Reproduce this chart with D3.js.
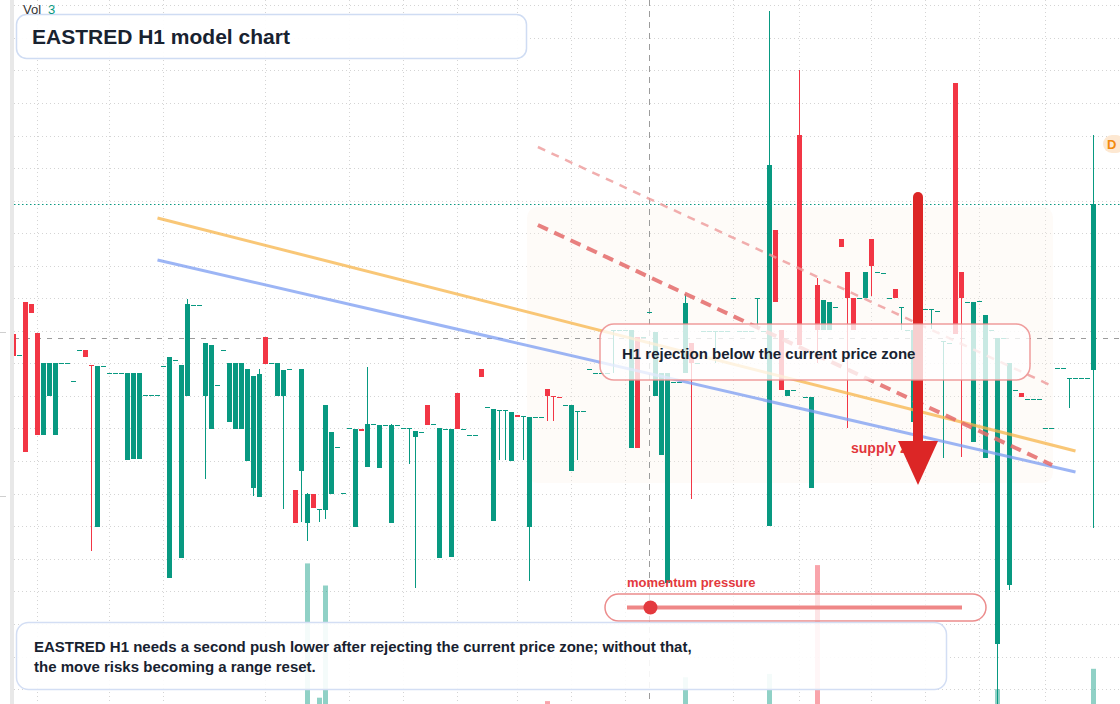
<!DOCTYPE html>
<html>
<head>
<meta charset="utf-8">
<script src="https://cdnjs.cloudflare.com/ajax/libs/d3/7.8.5/d3.min.js"></script>
<style>
body { margin: 0; background: #fff; }
svg { display: block; font-family: "Liberation Sans", Arial, sans-serif; }
</style>
</head>
<body>
<svg></svg>
<script>
// hourly bars, oldest first (index 0 is the half-hidden bar at the left edge)
let opens = [
  37.0, 34.9, 40.2, 40.0, 37.1, 26.9, 30.8, 26.9, 34.1, 34.1,
  32.3, 35.4, 35.4, 33.9, 17.7, 33.8, 33.1, 33.1, 33.1, 24.4,
  24.5, 24.5, 30.9, 30.9, 30.9, 33.8, 12.6, 34.4, 14.6, 30.8,
  39.9, 39.9, 30.8, 27.5, 31.9, 35.4, 28.2, 27.5, 27.5, 24.3,
  21.6, 20.7, 36.7, 34.1, 30.8, 30.8, 33.5, 21.4, 23.3, 18.1,
  21.0, 19.5, 19.4, 21.0, 25.7, 21.1, 27.6, 17.7, 27.5, 23.7,
  28.0, 23.6, 27.9, 18.1, 27.9, 27.6, 27.6, 26.7, 27.2, 29.9,
  28.0, 14.6, 27.5, 14.7, 31.1, 27.5, 26.9, 26.9, 33.5, 29.7,
  18.3, 29.4, 29.4, 24.3, 28.9, 28.8, 17.7, 28.7, 28.7, 31.5,
  30.8, 30.7, 29.9, 23.3, 29.3, 29.3, 33.5, 33.1, 33.1, 33.1,
  37.4, 37.4, 37.4, 25.6, 36.7, 36.7, 39.2, 30.8, 24.9, 12.1,
  32.2, 32.2, 33.1, 36.1, 34.1, 37.3, 37.3, 37.3, 37.3, 37.3,
  40.6, 37.3, 37.3, 37.3, 40.6, 37.3, 17.8, 47.4, 37.4, 30.8,
  31.4, 56.9, 30.7, 21.6, 41.9, 37.4, 37.4, 39.7, 46.5, 43.2,
  40.6, 40.6, 40.6, 46.5, 43.2, 43.1, 40.6, 41.5, 39.7, 37.4,
  28.2, 39.5, 39.5, 39.5, 39.3, 36.3, 36.1, 62.1, 43.2, 40.2,
  26.2, 40.3, 24.6, 37.4, 6.0, 36.6, 11.9, 31.4, 31.1, 30.5,
  30.5, 30.5, 27.6, 27.6, 33.6, 33.6, 32.6, 32.6, 32.6, 32.6,
  33.4
]
let highs = [
  37.0, 34.9, 40.2, 40.0, 37.1, 34.1, 34.1, 34.1, 34.1, 34.1,
  32.3, 35.4, 35.4, 33.9, 33.8, 33.8, 33.1, 33.1, 33.1, 33.1,
  33.1, 33.1, 30.9, 30.9, 30.9, 33.8, 34.7, 34.4, 33.9, 40.5,
  39.9, 39.9, 36.1, 35.9, 31.9, 35.4, 34.1, 34.1, 34.1, 33.5,
  32.8, 33.5, 36.7, 34.1, 34.1, 33.4, 33.5, 21.4, 33.5, 21.1,
  21.0, 19.5, 29.9, 27.2, 25.7, 21.1, 27.6, 27.5, 27.5, 33.7,
  28.0, 27.9, 27.9, 28.0, 27.9, 27.6, 27.6, 27.3, 27.2, 29.9,
  28.0, 27.6, 27.5, 27.5, 31.1, 27.5, 26.9, 26.9, 33.5, 29.7,
  29.5, 29.4, 29.4, 29.2, 28.9, 28.8, 28.7, 28.7, 28.7, 31.5,
  30.8, 30.7, 29.9, 29.9, 29.3, 29.3, 33.5, 33.1, 33.1, 33.1,
  37.4, 37.4, 37.4, 37.4, 36.7, 36.7, 39.2, 37.2, 33.1, 33.1,
  32.2, 32.2, 41.0, 36.1, 34.1, 37.3, 37.3, 37.3, 37.3, 37.3,
  40.6, 37.3, 37.3, 37.3, 40.6, 37.3, 69.3, 47.4, 37.4, 31.4,
  31.4, 63.4, 30.7, 30.7, 42.6, 40.4, 40.2, 39.7, 46.5, 43.2,
  40.6, 40.6, 43.2, 46.5, 43.2, 43.1, 40.6, 41.5, 39.7, 37.4,
  37.4, 39.5, 39.5, 39.5, 39.3, 36.3, 36.1, 62.1, 43.2, 40.2,
  40.2, 40.3, 38.9, 37.4, 36.6, 36.6, 34.1, 31.4, 31.1, 30.5,
  30.5, 30.5, 27.6, 27.6, 33.6, 33.6, 32.6, 32.6, 32.6, 32.6,
  56.9
]
let lows = [
  34.8, 34.9, 25.2, 39.1, 26.9, 26.9, 30.8, 26.9, 34.1, 34.1,
  32.3, 35.4, 34.7, 15.3, 17.7, 33.8, 33.1, 33.1, 33.1, 24.4,
  24.5, 24.5, 30.9, 30.9, 30.9, 33.8, 12.6, 34.4, 14.6, 30.8,
  39.9, 39.9, 22.5, 27.5, 31.9, 35.4, 28.2, 27.5, 27.5, 24.3,
  20.8, 20.7, 34.0, 34.1, 30.8, 19.5, 33.5, 18.1, 18.2, 16.3,
  19.6, 18.2, 18.5, 21.0, 25.7, 21.1, 27.6, 17.7, 27.3, 23.7,
  28.0, 23.6, 27.9, 18.1, 27.9, 27.6, 24.0, 11.6, 27.2, 27.9,
  28.0, 14.6, 27.5, 14.7, 27.5, 27.5, 26.9, 26.9, 32.7, 29.7,
  18.3, 24.4, 24.4, 24.3, 28.7, 24.4, 12.3, 28.7, 28.7, 28.3,
  28.3, 30.6, 29.9, 23.3, 24.4, 29.3, 33.5, 33.1, 33.1, 33.1,
  33.1, 37.4, 37.4, 25.6, 25.6, 36.7, 39.2, 30.8, 24.9, 12.1,
  32.2, 32.2, 33.1, 20.5, 34.1, 37.3, 37.3, 34.1, 37.3, 37.3,
  40.6, 37.3, 37.3, 37.3, 37.5, 37.3, 17.8, 40.2, 31.4, 30.8,
  31.4, 35.9, 30.7, 21.6, 34.1, 37.4, 37.4, 39.7, 45.7, 27.6,
  37.4, 40.6, 40.6, 40.8, 43.2, 43.1, 40.6, 40.6, 37.4, 37.4,
  28.2, 39.5, 39.5, 37.5, 39.3, 24.6, 36.1, 37.0, 24.7, 40.2,
  26.2, 40.3, 24.6, 37.4, -2.0, 36.6, 11.4, 31.4, 30.7, 30.5,
  30.5, 30.5, 27.6, 27.6, 33.6, 33.6, 29.6, 32.6, 32.6, 32.6,
  17.6
]
let closes = [
  34.8, 34.9, 25.2, 39.1, 26.9, 34.1, 34.1, 34.1, 34.1, 34.1,
  32.3, 35.4, 34.7, 33.8, 33.8, 33.8, 33.1, 33.1, 33.1, 33.1,
  33.1, 33.1, 30.9, 30.9, 30.9, 33.8, 34.7, 34.4, 33.9, 40.0,
  39.9, 39.9, 36.1, 35.9, 31.9, 35.4, 34.1, 34.1, 34.1, 33.5,
  32.8, 33.0, 34.0, 34.1, 34.1, 33.4, 33.5, 18.1, 33.5, 21.0,
  19.6, 19.5, 29.9, 27.2, 25.7, 21.1, 27.6, 27.5, 27.3, 28.0,
  28.0, 27.9, 27.9, 27.9, 27.9, 27.6, 27.6, 27.3, 27.2, 27.9,
  28.0, 27.6, 27.5, 27.5, 27.5, 27.5, 26.9, 26.9, 32.7, 29.7,
  29.5, 29.4, 29.4, 29.2, 28.7, 28.8, 28.7, 28.7, 28.7, 30.8,
  30.7, 30.6, 29.9, 29.9, 29.3, 29.3, 33.5, 33.1, 33.1, 33.1,
  37.4, 37.4, 37.4, 37.4, 25.6, 36.7, 39.2, 37.2, 33.1, 33.1,
  32.2, 32.2, 40.1, 34.1, 34.1, 37.3, 37.3, 37.3, 37.3, 37.3,
  40.6, 37.3, 37.3, 37.3, 40.6, 37.3, 53.9, 40.2, 31.4, 31.4,
  31.4, 35.9, 30.7, 30.7, 37.4, 40.4, 40.2, 39.7, 45.7, 40.6,
  37.4, 40.6, 43.2, 43.8, 43.2, 43.1, 40.6, 40.6, 39.7, 37.4,
  37.4, 39.5, 39.5, 39.5, 39.3, 36.3, 36.1, 37.0, 40.6, 40.2,
  40.2, 40.3, 38.9, 37.4, 36.6, 36.6, 34.1, 31.4, 30.7, 30.5,
  30.5, 30.5, 27.6, 27.6, 33.6, 33.6, 32.6, 32.6, 32.6, 32.6,
  50.0
]

// only the volume bars that rise into view
let volumeBars = [49, 51, 52, 89, 112, 126, 134, 164, 180]
let volumeValues = [98, 19, 85, 17, 31, 33, 97, 24, 36]
let volumeLabel = '3'

let priceTicks = [69.9, 66.6, 63.4, 60.1, 56.8, 53.6, 50.3, 47.1, 43.8, 40.6, 37.3,
  34.1, 30.8, 27.6, 24.3, 21.0, 17.8, 14.5, 11.3, 8.0, 4.7, 1.5]
let timeTicks = [4, 16, 25, 42, 56, 65, 74, 84, 93, 102, 120, 131, 143, 152, 161, 172]

// [bar index, price]
let fastAverage = [[24, 48.6], [177, 25.3]]
let slowAverage = [[24, 44.4], [177, 23.2]]
let upperRejection = [[87.4, 55.7], [173.1, 31.8]]
let lowerRejection = [[87.4, 47.9], [173.1, 23.9]]

let supplyZone = {from: 85.6, to: 173.25, top: 49.7, bottom: 22.1}
let arrowBar = 150.75
let arrowPrices = [50.7, 21.9]
let crosshairBar = 106
let crosshairPrice = 36.6
let momentum = 0.07

let width = 1120
let height = 704
let up = '#089981'
let down = '#f23645'

let svg = d3.select('svg').attr('width', width).attr('height', height)

let xScale = d3.scaleLinear().domain([0, 180]).range([13.5, 1093.5])
let yScale = d3.scaleLinear().domain([0, 70.4]).range([height, 0])
let volScale = d3.scaleLinear().domain([0, 100]).range([730, 560])

let bars = opens.map((o, i) => ({i: i, o: o, h: highs[i], l: lows[i], c: closes[i]}))
let colorOf = (d) => d.c >= d.o ? up : down

svg.append('defs').append('clipPath').attr('id', 'plot-clip')
   .append('rect').attr('x', 14).attr('y', 0).attr('width', width - 14).attr('height', height)

let drawFrame = () => {
    svg.append('rect').attr('x', 10).attr('y', 0).attr('width', 4).attr('height', height).attr('fill', '#e8e8e8')
    svg.selectAll('.axis-mark')
       .data([332, 496])
       .enter()
       .append('line')
       .attr('x1', 0).attr('x2', 6)
       .attr('y1', (d) => d + 0.5).attr('y2', (d) => d + 0.5)
       .attr('stroke', '#cfcfcf')
}

let plot = svg.append('g').attr('clip-path', 'url(#plot-clip)')

let drawGrid = () => {
    plot.selectAll('.hgrid')
        .data(priceTicks)
        .enter()
        .append('line')
        .attr('x1', 14).attr('x2', width)
        .attr('y1', (d) => Math.round(yScale(d)) + 0.5)
        .attr('y2', (d) => Math.round(yScale(d)) + 0.5)
        .attr('stroke', '#d4d4d4')
        .attr('stroke-dasharray', '1,3')
    plot.selectAll('.vgrid')
        .data(timeTicks)
        .enter()
        .append('line')
        .attr('x1', (d) => Math.floor(xScale(d)) + 0.5)
        .attr('x2', (d) => Math.floor(xScale(d)) + 0.5)
        .attr('y1', 0).attr('y2', height)
        .attr('stroke', '#d4d4d4')
        .attr('stroke-dasharray', '1,3')
}

let drawZone = () => {
    plot.append('rect')
        .attr('x', xScale(supplyZone.from))
        .attr('y', yScale(supplyZone.top))
        .attr('width', xScale(supplyZone.to) - xScale(supplyZone.from))
        .attr('height', yScale(supplyZone.bottom) - yScale(supplyZone.top))
        .attr('rx', 10)
        .attr('fill', '#fbf1e6')
        .attr('opacity', 0.28)
}

let drawCrosshair = () => {
    let cy = Math.round(yScale(crosshairPrice)) + 0.5
    plot.append('line')
        .attr('x1', 14).attr('x2', width).attr('y1', cy).attr('y2', cy)
        .attr('stroke', '#9c9c9c').attr('stroke-dasharray', '5,6')
    let cx = Math.floor(xScale(crosshairBar)) + 0.5
    plot.append('line')
        .attr('x1', cx).attr('x2', cx).attr('y1', 0).attr('y2', height)
        .attr('stroke', '#9c9c9c').attr('stroke-dasharray', '6,5')
    // last price line
    let ly = Math.round(yScale(closes[closes.length - 1])) + 0.5
    plot.append('line')
        .attr('x1', 14).attr('x2', width).attr('y1', ly).attr('y2', ly)
        .attr('stroke', up).attr('stroke-dasharray', '1.5,2.5')
}

let drawVolume = () => {
    plot.selectAll('.vol')
        .data(volumeBars)
        .enter()
        .append('rect')
        .attr('x', (d) => xScale(d) - 2.5)
        .attr('y', (d, k) => volScale(volumeValues[k]))
        .attr('width', 5)
        .attr('height', (d, k) => volScale(0) - volScale(volumeValues[k]))
        .attr('fill', (d) => colorOf(bars[d]))
        .attr('opacity', 0.45)
}

let drawCandles = () => {
    plot.selectAll('.wick')
        .data(bars)
        .enter()
        .append('line')
        .attr('x1', (d) => xScale(d.i)).attr('x2', (d) => xScale(d.i))
        .attr('y1', (d) => yScale(d.h)).attr('y2', (d) => yScale(d.l))
        .attr('stroke', colorOf)
    plot.selectAll('.body')
        .data(bars)
        .enter()
        .append('rect')
        .attr('x', (d) => xScale(d.i) - 2.5)
        .attr('y', (d) => Math.round(yScale(Math.max(d.o, d.c))))
        .attr('width', 5)
        .attr('height', (d) => Math.max(1, Math.round(Math.abs(yScale(d.o) - yScale(d.c)))))
        .attr('fill', colorOf)
}

let drawStudies = () => {
    let line = d3.line().x((d) => xScale(d[0])).y((d) => yScale(d[1]))
    plot.append('path').attr('d', line(fastAverage))
        .attr('fill', 'none').attr('stroke', '#f7b44a').attr('stroke-width', 3).attr('opacity', 0.75)
    plot.append('path').attr('d', line(slowAverage))
        .attr('fill', 'none').attr('stroke', '#7b9cf2').attr('stroke-width', 3).attr('opacity', 0.75)
    plot.append('path').attr('d', line(upperRejection))
        .attr('fill', 'none').attr('stroke', '#ee9a9a').attr('stroke-width', 2.5)
        .attr('stroke-dasharray', '8,7').attr('opacity', 0.8)
    plot.append('path').attr('d', line(lowerRejection))
        .attr('fill', 'none').attr('stroke', '#e46a6a').attr('stroke-width', 4)
        .attr('stroke-dasharray', '11,7').attr('opacity', 0.85)
}

let drawArrow = () => {
    let ax = xScale(arrowBar)
    let top = yScale(arrowPrices[0])
    let tip = yScale(arrowPrices[1])
    plot.append('text')
        .attr('x', 851).attr('y', 453)
        .attr('font-size', 14).attr('font-weight', 'bold')
        .attr('fill', '#e2363c')
        .text('supply zone')
    plot.append('line')
        .attr('x1', ax).attr('x2', ax).attr('y1', top).attr('y2', tip - 40)
        .attr('stroke', '#dc2626').attr('stroke-width', 10).attr('stroke-linecap', 'round')
    plot.append('path')
        .attr('d', 'M' + (ax - 20) + ',' + (tip - 44) + 'L' + (ax + 20) + ',' + (tip - 44) + 'L' + ax + ',' + tip + 'Z')
        .attr('fill', '#dc2626')
}

let drawNotes = () => {
    // rejection callout
    svg.append('rect')
       .attr('x', 600).attr('y', 324).attr('width', 430).attr('height', 56).attr('rx', 14)
       .attr('fill', '#ffffff').attr('fill-opacity', 0.78)
       .attr('stroke', '#ec8c8c').attr('stroke-width', 1.5).attr('stroke-opacity', 0.85)
    svg.append('text')
       .attr('x', 622).attr('y', 359)
       .attr('font-size', 15).attr('font-weight', 'bold').attr('fill', '#182230')
       .text('H1 rejection below the current price zone')

    // momentum gauge
    let gauge = d3.scaleLinear().domain([0, 1]).range([627, 962])
    svg.append('text')
       .attr('x', 627).attr('y', 587)
       .attr('font-size', 13).attr('font-weight', 'bold').attr('fill', '#e3393e')
       .text('momentum pressure')
    svg.append('rect')
       .attr('x', 605).attr('y', 594).attr('width', 381).attr('height', 27).attr('rx', 13.5)
       .attr('fill', '#ffffff').attr('fill-opacity', 0.7)
       .attr('stroke', '#ec8c8c').attr('stroke-width', 1.5)
    svg.append('line')
       .attr('x1', gauge(0)).attr('x2', gauge(1)).attr('y1', 607.5).attr('y2', 607.5)
       .attr('stroke', '#ef8787').attr('stroke-width', 4)
    svg.append('circle')
       .attr('cx', gauge(momentum)).attr('cy', 607.5).attr('r', 7)
       .attr('fill', '#e3393e')

    // summary
    svg.append('rect')
       .attr('x', 16.5).attr('y', 622.5).attr('width', 930).attr('height', 67).attr('rx', 12)
       .attr('fill', '#ffffff').attr('fill-opacity', 0.9)
       .attr('stroke', '#d3def4').attr('stroke-width', 1.5)
    let summary = svg.append('text')
       .attr('font-size', 15).attr('font-weight', 'bold').attr('fill', '#182230')
    summary.append('tspan').attr('x', 34).attr('y', 652)
       .text('EASTRED H1 needs a second push lower after rejecting the current price zone; without that,')
    summary.append('tspan').attr('x', 34).attr('y', 672)
       .text('the move risks becoming a range reset.')

    // title
    svg.append('rect')
       .attr('x', 16.5).attr('y', 14.5).attr('width', 510).attr('height', 44).attr('rx', 10)
       .attr('fill', '#ffffff').attr('fill-opacity', 0.92)
       .attr('stroke', '#cfdcf3').attr('stroke-width', 1.5)
    svg.append('text')
       .attr('x', 32).attr('y', 43.5)
       .attr('font-size', 21).attr('font-weight', 'bold').attr('fill', '#182230')
       .text('EASTRED H1 model chart')

    let vol = svg.append('text').attr('x', 23).attr('y', 13.5).attr('font-size', 13)
    vol.append('tspan').attr('fill', '#333').text('Vol')
    vol.append('tspan').attr('dx', 7).attr('fill', up).text(volumeLabel)

    // session marker
    svg.append('rect')
       .attr('x', 1103).attr('y', 135).attr('width', 22).attr('height', 18).attr('rx', 9)
       .attr('fill', '#fde8d2')
    svg.append('text')
       .attr('x', 1107).attr('y', 149)
       .attr('font-size', 13).attr('font-weight', 'bold').attr('fill', '#f28a0c')
       .text('D')
}

drawFrame()
drawGrid()
drawZone()
drawCrosshair()
drawVolume()
drawCandles()
drawStudies()
drawArrow()
drawNotes()
</script>
</body>
</html>
